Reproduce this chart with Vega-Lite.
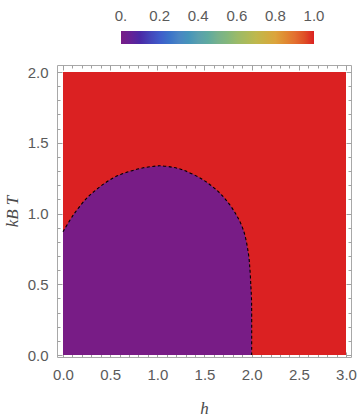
{
  "$schema": "https://vega.github.io/schema/vega-lite/v6.json",
  "width": 294,
  "height": 292,
  "autosize": {"type": "none"},
  "padding": {"left": 57, "top": 65, "right": 9, "bottom": 63},
  "background": "white",
  "config": {
    "view": {"stroke": "#a8a8a8", "strokeWidth": 1},
    "axis": {
      "domain": false,
      "grid": false,
      "tickColor": "#a0a0a0",
      "labelColor": "#5a5a5a",
      "labelFont": "Liberation Sans",
      "labelFontSize": 15,
      "titleColor": "#4a4a4a",
      "titleFont": "Liberation Serif",
      "titleFontStyle": "italic",
      "titleFontWeight": "normal",
      "titleFontSize": 17
    }
  },
  "datasets": {
    "region": [{"h0": 0, "h1": 3, "T0": 0, "T1": 2, "phase": 1}],
    "boundary": [
      {"i": 0, "h": 0.0, "T": 0.871, "phase": 0},
      {"i": 1, "h": 0.109, "T": 0.989, "phase": 0},
      {"i": 2, "h": 0.25, "T": 1.107, "phase": 0},
      {"i": 3, "h": 0.392, "T": 1.189, "phase": 0},
      {"i": 4, "h": 0.534, "T": 1.252, "phase": 0},
      {"i": 5, "h": 0.675, "T": 1.291, "phase": 0},
      {"i": 6, "h": 0.852, "T": 1.323, "phase": 0},
      {"i": 7, "h": 1.0, "T": 1.336, "phase": 0},
      {"i": 8, "h": 1.03, "T": 1.337, "phase": 0},
      {"i": 9, "h": 1.15, "T": 1.328, "phase": 0},
      {"i": 10, "h": 1.275, "T": 1.307, "phase": 0},
      {"i": 11, "h": 1.487, "T": 1.237, "phase": 0},
      {"i": 12, "h": 1.664, "T": 1.143, "phase": 0},
      {"i": 13, "h": 1.806, "T": 1.025, "phase": 0},
      {"i": 14, "h": 1.912, "T": 0.883, "phase": 0},
      {"i": 15, "h": 1.965, "T": 0.719, "phase": 0},
      {"i": 16, "h": 1.982, "T": 0.601, "phase": 0},
      {"i": 17, "h": 1.992, "T": 0.483, "phase": 0},
      {"i": 18, "h": 1.998, "T": 0.4, "phase": 0},
      {"i": 19, "h": 2.0, "T": 0.3, "phase": 0},
      {"i": 20, "h": 2.0, "T": 0.0, "phase": 0}
    ]
  },
  "resolve": {"axis": {"x": "independent", "y": "independent"}},
  "layer": [
    {
      "data": {"name": "region"},
      "mark": {"type": "rect"},
      "encoding": {
        "x": {
          "field": "h0", "type": "quantitative",
          "scale": {"domain": [-0.0636, 3.053], "nice": false, "zero": false},
          "axis": {
            "orient": "bottom",
            "title": "h",
            "values": [0,0.1,0.2,0.3,0.4,0.5,0.6,0.7,0.8,0.9,1,1.1,1.2,1.3,1.4,1.5,1.6,1.7,1.8,1.9,2,2.1,2.2,2.3,2.4,2.5,2.6,2.7,2.8,2.9,3],
            "labelExpr": "abs(datum.value*2-round(datum.value*2))<0.001 ? format(datum.value, '.1f') : ''",
            "tickSize": {"condition": {"test": "abs(datum.value*2-round(datum.value*2))<0.001", "value": -5}, "value": -3},
            "labelPadding": 15,
            "labelFlush": false,
            "labelOverlap": false,
            "titlePadding": 16
          }
        },
        "x2": {"field": "h1"},
        "y": {
          "field": "T0", "type": "quantitative",
          "scale": {"domain": [-0.0141, 2.0495], "nice": false, "zero": false},
          "axis": {
            "orient": "left",
            "title": "kB T",
            "values": [0,0.1,0.2,0.3,0.4,0.5,0.6,0.7,0.8,0.9,1,1.1,1.2,1.3,1.4,1.5,1.6,1.7,1.8,1.9,2],
            "labelExpr": "abs(datum.value*2-round(datum.value*2))<0.001 ? format(datum.value, '.1f') : ''",
            "tickSize": {"condition": {"test": "abs(datum.value*2-round(datum.value*2))<0.001", "value": -5}, "value": -3},
            "labelPadding": 14,
            "labelFlush": false,
            "labelOverlap": false,
            "titlePadding": 6
          }
        },
        "y2": {"field": "T1"},
        "color": {
          "field": "phase", "type": "quantitative",
          "scale": {
            "domain": [0, 0.1, 0.2, 0.3, 0.4, 0.5, 0.6, 0.7, 0.8, 0.9, 1],
            "range": ["#781c86", "#4a29a6", "#3f5bca", "#4a85c4", "#5a9fae", "#76b18d", "#9aba69", "#bfb84d", "#dca43c", "#e37030", "#db2122"]
          },
          "legend": {
            "orient": "none",
            "direction": "horizontal",
            "legendX": 64,
            "legendY": -34,
            "title": null,
            "padding": 0,
            "gradientLength": 193,
            "gradientThickness": 13,
            "gradientStrokeWidth": 0,
            "values": [0, 0.2, 0.4, 0.6, 0.8, 1],
            "labelExpr": "datum.value == 0 ? '0.' : format(datum.value, '.1f')",
            "labelFont": "Liberation Sans",
            "labelFontSize": 15,
            "labelColor": "#5a5a5a",
            "labelOffset": -23,
            "labelBaseline": "alphabetic",
            "labelOverlap": false,
            "encode": {
              "labels": {
                "update": {
                  "align": {"value": "center"},
                  "baseline": {"value": "alphabetic"}
                }
              }
            }
          }
        }
      }
    },
    {
      "data": {"name": "boundary"},
      "transform": [{"filter": "datum.i < 20"}],
      "mark": {"type": "area", "fill": "#781c86", "orient": "vertical", "interpolate": "catmull-rom"},
      "encoding": {
        "x": {
          "field": "h", "type": "quantitative",
          "axis": {
            "orient": "top",
            "title": null,
            "labels": false,
            "values": [0,0.1,0.2,0.3,0.4,0.5,0.6,0.7,0.8,0.9,1,1.1,1.2,1.3,1.4,1.5,1.6,1.7,1.8,1.9,2,2.1,2.2,2.3,2.4,2.5,2.6,2.7,2.8,2.9,3],
            "tickSize": {"condition": {"test": "abs(datum.value*2-round(datum.value*2))<0.001", "value": -5}, "value": -3}
          }
        },
        "y": {
          "field": "T", "type": "quantitative",
          "axis": {
            "orient": "right",
            "title": null,
            "labels": false,
            "values": [0,0.1,0.2,0.3,0.4,0.5,0.6,0.7,0.8,0.9,1,1.1,1.2,1.3,1.4,1.5,1.6,1.7,1.8,1.9,2],
            "tickSize": {"condition": {"test": "abs(datum.value*2-round(datum.value*2))<0.001", "value": -5}, "value": -3}
          }
        }
      }
    },
    {
      "data": {"name": "boundary"},
      "mark": {"type": "line", "color": "black", "strokeWidth": 1.1, "strokeDash": [3, 2.5], "interpolate": "catmull-rom"},
      "encoding": {
        "x": {"field": "h", "type": "quantitative", "axis": null},
        "y": {"field": "T", "type": "quantitative", "axis": null},
        "order": {"field": "i"}
      }
    }
  ]
}
